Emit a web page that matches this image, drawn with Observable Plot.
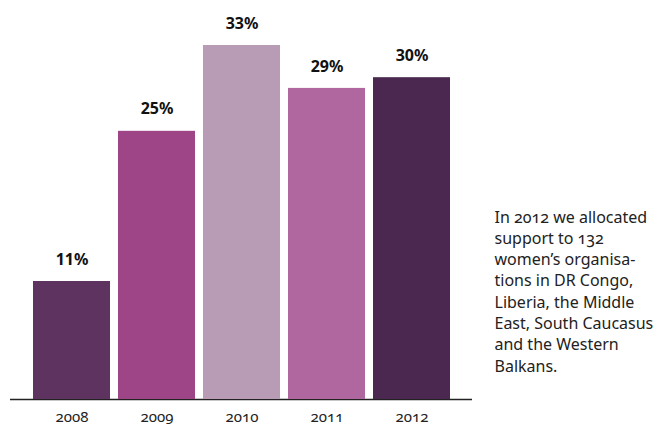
<!DOCTYPE html>
<html>
<head>
<meta charset="utf-8">
<script src="https://cdn.jsdelivr.net/npm/d3@7"></script>
<script src="https://cdn.jsdelivr.net/npm/@observablehq/plot@0.6"></script>
<style>
  html, body { margin: 0; padding: 0; background: #fff; }
  #chart svg { display: block; font-family: "Noto Sans", sans-serif; }
  .onum { font-variant-numeric: oldstyle-nums; font-feature-settings: "onum" 1; }
</style>
</head>
<body>
<div id="chart"></div>
<script>
const years = ["2008", "2009", "2010", "2011", "2012"];
const shares = [11, 25, 33, 29, 30];
const colors = ["#5e3360", "#9d4586", "#b89cb5", "#b0669f", "#4b2850"];
const captionLines = [
  "In 2012 we allocated",
  "support to 132",
  "women’s organisa-",
  "tions in DR Congo,",
  "Liberia, the Middle",
  "East, South Caucasus",
  "and the Western",
  "Balkans."
];

const data = years.map((y, i) => ({year: y, value: shares[i], color: colors[i]}));

const chart = Plot.plot({
  width: 662,
  height: 428,
  marginLeft: 10,
  marginRight: 190,
  marginTop: 45,
  marginBottom: 29,
  style: {fontFamily: "'Noto Sans', sans-serif", background: "#fff", overflow: "visible"},
  x: {domain: years, paddingInner: 0.1, paddingOuter: 0.26, label: null},
  y: {domain: [0, d3.max(shares)], axis: null, label: null},
  marks: [
    Plot.ruleY([0], {stroke: "#222", strokeWidth: 1.5}),
    Plot.barY(data, {x: "year", y: "value", fill: "color"}),
    Plot.text(data, {
      x: "year", y: "value", text: d => d.value + "%",
      dy: -22, fontSize: 16, fontWeight: "bold", fill: "#111"
    }),
    Plot.axisX({tickSize: 0, tickPadding: 12, fontSize: 15, fill: "#222", className: "onum"}),
    Plot.text([captionLines.join("\n")], {
      frameAnchor: "top-left", textAnchor: "start", lineAnchor: "top",
      dx: 484, dy: 162, lineHeight: 1.33, fontSize: 16, fill: "#222",
      className: "onum"
    })
  ]
});
document.getElementById("chart").append(chart);
</script>
</body>
</html>
